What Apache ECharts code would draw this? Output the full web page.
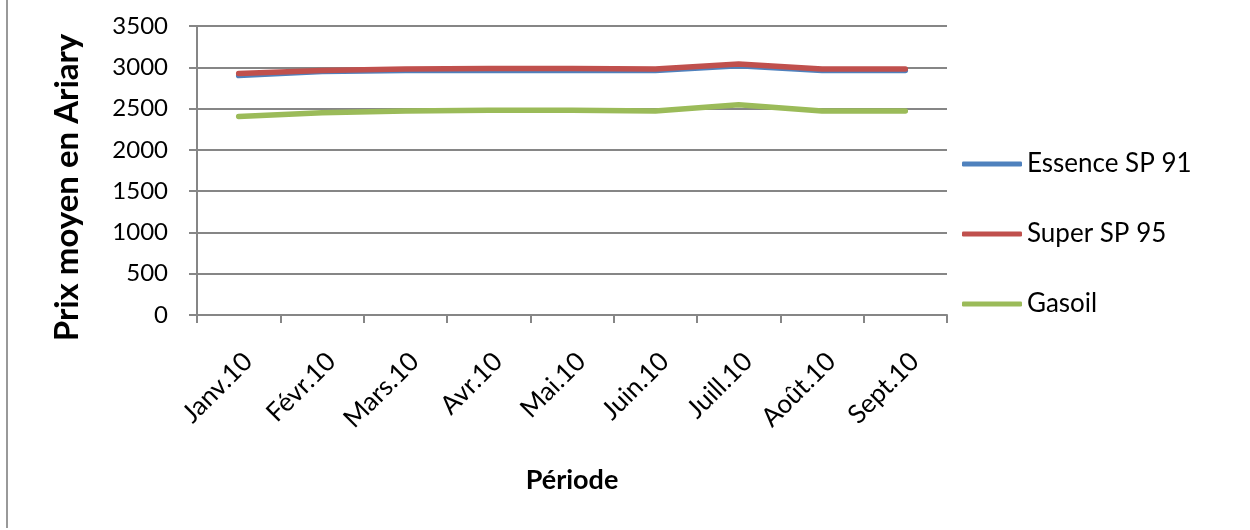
<!DOCTYPE html>
<html lang="fr">
<head>
    <meta charset="utf-8" />
    <title>Prix moyen des carburants</title>
    <script src="https://cdn.jsdelivr.net/npm/echarts@6/dist/echarts.min.js"></script>
    <style>
        body { margin: 0; background: #fff; }
        #chartmain { width: 1250px; height: 530px; }
    </style>
</head>
<body>
    <div id="chartmain"></div>
    <script>
        // données
        var periodes = ['Janv.10', 'Févr.10', 'Mars.10', 'Avr.10', 'Mai.10', 'Juin.10', 'Juill.10', 'Août.10', 'Sept.10'];
        var essenceSP91 = [2900, 2950, 2960, 2960, 2960, 2960, 3020, 2960, 2960];
        var superSP95 = [2925, 2960, 2980, 2985, 2985, 2980, 3040, 2980, 2980];
        var gasoil = [2405, 2450, 2470, 2480, 2480, 2470, 2545, 2470, 2470];
        var seriesNames = ['Essence SP 91', 'Super SP 95', 'Gasoil'];
        var couleurs = ['#4F81BD', '#C0504D', '#9BBB59'];

        var police = 'Lato, "Open Sans", sans-serif';
        var gris = '#868686';

        function ligne(nom, data, couleur) {
            return {
                name: nom, type: 'line', data: data,
                symbol: 'none', smooth: false,
                lineStyle: { color: couleur, width: 5.5, cap: 'round', join: 'round' },
                itemStyle: { color: couleur }
            };
        }

        var option = {
            animation: false,
            color: couleurs,
            textStyle: { fontFamily: police },
            grid: { left: 197, right: 303, top: 26, bottom: 215, containLabel: false },
            legend: {
                orient: 'vertical', left: 962, top: 149, padding: 0,
                icon: 'roundRect', itemWidth: 60, itemHeight: 5, itemGap: 40,
                data: seriesNames,
                textStyle: { fontSize: 26, color: '#000', fontFamily: police, lineHeight: 30 }
            },
            xAxis: {
                type: 'category', data: periodes, boundaryGap: true,
                name: 'Période', nameLocation: 'middle', nameGap: 152,
                nameTextStyle: { fontSize: 27, fontWeight: 'bold', color: '#000', fontFamily: police },
                axisLine: { lineStyle: { color: gris, width: 2 } },
                axisTick: { show: true, length: 8, alignWithLabel: false, lineStyle: { color: gris, width: 2 } },
                axisLabel: { rotate: 45, margin: 33, fontSize: 26, verticalAlign: 'top', color: '#000', fontFamily: police, interval: 0 },
                splitLine: { show: false }
            },
            yAxis: {
                type: 'value', min: 0, max: 3500, interval: 500,
                name: 'Prix moyen en Ariary', nameLocation: 'middle', nameGap: 113, nameRotate: 90,
                nameTextStyle: { fontSize: 33, fontWeight: 'bold', color: '#000', fontFamily: police, padding: [0, 34, 0, 0] },
                axisLine: { show: true, lineStyle: { color: gris, width: 2 } },
                axisTick: { show: true, length: 8, lineStyle: { color: gris, width: 2 } },
                axisLabel: { margin: 29, fontSize: 24, color: '#000', fontFamily: police, formatter: function (v) { return String(v); } },
                splitLine: { show: true, lineStyle: { color: gris, width: 2 } }
            },
            graphic: [{
                type: 'line', shape: { x1: 7, y1: 0, x2: 7, y2: 528 },
                style: { stroke: '#999', lineWidth: 2 }
            }],
            series: [
                ligne(seriesNames[0], essenceSP91, couleurs[0]),
                ligne(seriesNames[1], superSP95, couleurs[1]),
                ligne(seriesNames[2], gasoil, couleurs[2])
            ]
        };

        echarts.init(document.getElementById('chartmain')).setOption(option);
    </script>
</body>
</html>
